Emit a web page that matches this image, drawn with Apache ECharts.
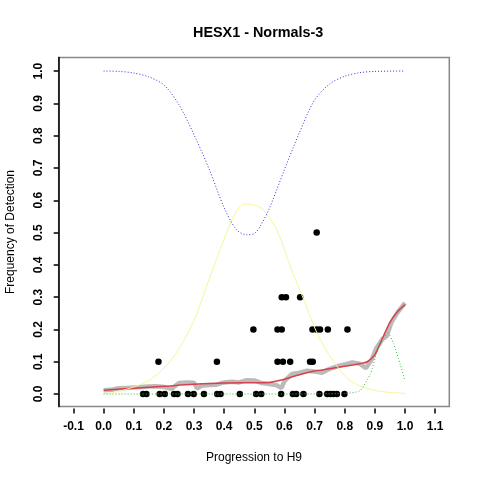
<!DOCTYPE html>
<html>
<head>
<meta charset="utf-8">
<script src="https://cdn.jsdelivr.net/npm/echarts@6/dist/echarts.min.js"></script>
<style>
  html, body { margin: 0; padding: 0; background: #fff; }
  #chart { width: 480px; height: 480px; }
</style>
</head>
<body>
<div id="chart"></div>
<script>
// tick labels
var xTicks = [-0.1, 0.0, 0.1, 0.2, 0.3, 0.4, 0.5, 0.6, 0.7, 0.8, 0.9, 1.0, 1.1];
var yTicks = [0.0, 0.1, 0.2, 0.3, 0.4, 0.5, 0.6, 0.7, 0.8, 0.9, 1.0];

// black detection points
var dotX = [0.131, 0.142, 0.186, 0.203, 0.234, 0.245, 0.280, 0.299, 0.333, 0.377, 0.388, 0.452, 0.506, 0.523,
            0.589, 0.628, 0.639, 0.663, 0.716, 0.742, 0.752, 0.762, 0.774, 0.799,
            0.182, 0.376, 0.577, 0.595, 0.619, 0.685, 0.694,
            0.497, 0.577, 0.591, 0.693, 0.707, 0.718, 0.744, 0.809,
            0.591, 0.605, 0.652,
            0.707];
var dotY = [0, 0, 0, 0, 0, 0, 0, 0, 0, 0, 0, 0, 0, 0,
            0, 0, 0, 0, 0, 0, 0, 0, 0, 0,
            0.1, 0.1, 0.1, 0.1, 0.1, 0.1, 0.1,
            0.2, 0.2, 0.2, 0.2, 0.2, 0.2, 0.2, 0.2,
            0.3, 0.3, 0.3,
            0.5];

// gray running frequency
var grayX = [0.000, 0.025, 0.050, 0.075, 0.100, 0.125, 0.150, 0.175, 0.200, 0.225, 0.250, 0.275, 0.300, 0.310,
             0.325, 0.350, 0.375, 0.400, 0.425, 0.450, 0.475, 0.500, 0.525, 0.550, 0.575, 0.590, 0.600,
             0.625, 0.650, 0.675, 0.700, 0.725, 0.750, 0.775, 0.800, 0.825, 0.850, 0.870, 0.890, 0.905,
             0.925, 0.940, 0.955, 0.975, 1.000];
var grayY = [0.012, 0.013, 0.018, 0.019, 0.020, 0.022, 0.023, 0.024, 0.022, 0.016, 0.034, 0.036, 0.035, 0.017,
             0.026, 0.028, 0.029, 0.036, 0.038, 0.036, 0.043, 0.042, 0.034, 0.031, 0.027, 0.018, 0.040,
             0.062, 0.066, 0.072, 0.070, 0.066, 0.078, 0.086, 0.092, 0.098, 0.094, 0.080, 0.108, 0.142,
             0.170, 0.180, 0.222, 0.252, 0.282];

// red smoothed fit
var redX = [0, 0.1, 0.2, 0.3, 0.4, 0.5, 0.55, 0.6, 0.65, 0.7, 0.75, 0.8, 0.85, 0.875, 0.9, 0.925, 0.95, 0.975, 1.0];
var redY = [0.012, 0.018, 0.024, 0.030, 0.034, 0.035, 0.036, 0.046, 0.060, 0.071, 0.078, 0.086, 0.094, 0.100,
            0.122, 0.172, 0.222, 0.255, 0.277];

// yellow density
var yellowX = [0, 0.05, 0.1, 0.15, 0.2, 0.25, 0.3, 0.35, 0.4, 0.44, 0.47, 0.5, 0.53, 0.575, 0.62, 0.665, 0.71,
               0.76, 0.82, 0.9, 1.0];
var yellowY = [0.0, 0.008, 0.022, 0.042, 0.08, 0.14, 0.228, 0.355, 0.48, 0.565, 0.588, 0.585, 0.57, 0.508,
               0.394, 0.29, 0.185, 0.105, 0.04, 0.011, 0.002];

// blue dotted curve
var blueX = [0, 0.05, 0.1, 0.15, 0.2, 0.25, 0.3, 0.35, 0.4, 0.44, 0.475, 0.5, 0.52, 0.55, 0.6, 0.65, 0.7, 0.75,
             0.8, 0.85, 0.9, 1.0];
var blueY = [1.0, 0.999, 0.994, 0.982, 0.957, 0.896, 0.803, 0.697, 0.577, 0.51, 0.493, 0.497, 0.52, 0.575,
             0.695, 0.81, 0.91, 0.96, 0.984, 0.995, 0.999, 1.0];

// green dotted curve
var greenX = [0, 0.2, 0.4, 0.6, 0.8, 0.85, 0.885, 0.905, 0.928, 0.945, 0.962, 0.984, 1.0];
var greenY = [0, 0, 0, 0, 0.002, 0.01, 0.062, 0.124, 0.176, 0.187, 0.156, 0.093, 0.041];

function pairs(xs, ys) {
  return xs.map(function (x, i) { return [x, ys[i]]; });
}

var myChart = echarts.init(document.getElementById('chart'));

var labelFont = 'Liberation Sans, Arial, sans-serif';

var option = {
  backgroundColor: '#fff',
  animation: false,
  title: {
    text: 'HESX1 - Normals-3',
    left: 188,
    top: 21,
    textStyle: { fontFamily: labelFont, fontSize: 14.4, fontWeight: 'bold', color: '#000' }
  },
  grid: {
    left: 58.7, right: 30.7, top: 57.5, bottom: 73.5,
    show: true,
    borderColor: '#888',
    borderWidth: 1.5,
    outerBoundsMode: 'none'
  },
  xAxis: {
    type: 'value',
    min: -0.149,
    max: 1.147,
    offset: 2,
    name: 'Progression to H9',
    nameLocation: 'middle',
    nameGap: 43,
    nameTextStyle: { fontFamily: labelFont, fontSize: 12, color: '#000' },
    axisLine: { show: false, onZero: false },
    axisTick: { show: true, customValues: xTicks, length: 5, lineStyle: { color: '#000', width: 1.5 } },
    axisLabel: {
      customValues: xTicks, margin: 12,
      fontFamily: labelFont, fontSize: 12, fontWeight: 'bold', color: '#000',
      formatter: function (v) { return v.toFixed(1); }
    },
    splitLine: { show: false }
  },
  yAxis: {
    type: 'value',
    min: -0.0386,
    max: 1.042,
    name: 'Frequency of Detection',
    nameLocation: 'middle',
    nameGap: 42,
    nameTextStyle: { fontFamily: labelFont, fontSize: 12, color: '#000' },
    axisLine: { show: true, onZero: false, lineStyle: { color: '#000', width: 1.5 } },
    axisTick: { show: true, customValues: yTicks, length: 5, lineStyle: { color: '#000', width: 1.5 } },
    axisLabel: {
      customValues: yTicks, rotate: 90, margin: 14,
      fontFamily: labelFont, fontSize: 12, fontWeight: 'bold', color: '#000',
      formatter: function (v) { return v.toFixed(1); }
    },
    splitLine: { show: false }
  },
  series: [
    {
      type: 'scatter',
      data: pairs(dotX, dotY),
      symbol: 'circle',
      symbolSize: 6.5,
      itemStyle: { color: '#000', opacity: 1 }
    },
    {
      type: 'line',
      data: pairs(grayX, grayY),
      showSymbol: false,
      lineStyle: { color: '#bbbbbb', width: 4.5 }
    },
    {
      type: 'line',
      data: pairs(redX, redY),
      showSymbol: false,
      smooth: 0.3,
      lineStyle: { color: '#d8404c', width: 1.5 }
    },
    {
      type: 'line',
      data: pairs(yellowX, yellowY),
      showSymbol: false,
      smooth: 0.3,
      lineStyle: { color: '#f6f69a', width: 1 }
    },
    {
      type: 'line',
      data: pairs(blueX, blueY),
      showSymbol: false,
      smooth: 0.3,
      lineStyle: { color: '#3030e0', width: 1, type: [1, 2] }
    },
    {
      type: 'line',
      data: pairs(greenX, greenY),
      showSymbol: false,
      smooth: 0.2,
      lineStyle: { color: '#30c030', width: 1, type: [1, 2] }
    }
  ]
};

myChart.setOption(option);
</script>
</body>
</html>
